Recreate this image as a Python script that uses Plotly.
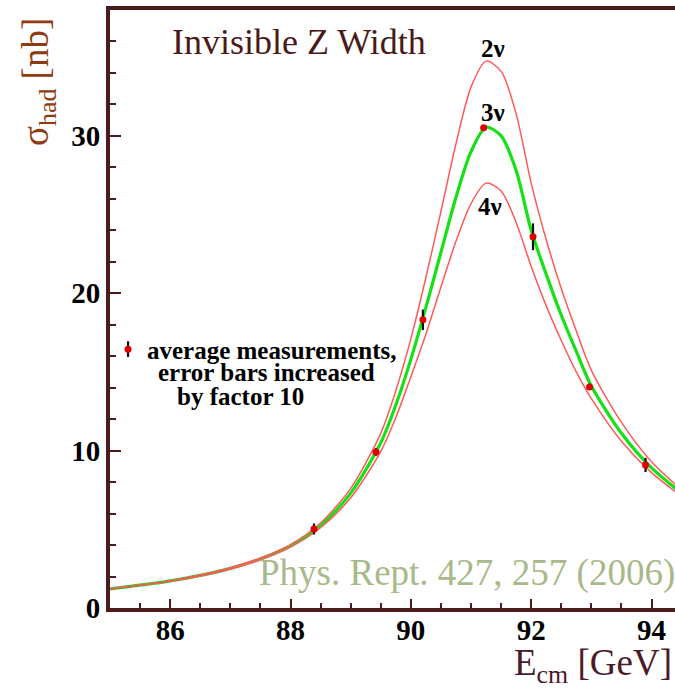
import plotly.graph_objects as go

# ---- data ----
E_curve = [85.0, 85.5, 86.0, 86.5, 87.0, 87.5, 88.0, 88.5, 89.0, 89.5, 89.75, 90.0,
           90.25, 90.5, 90.75, 91.0, 91.25, 91.5, 91.75, 92.0, 92.25, 92.5, 92.75,
           93.0, 93.5, 94.0, 94.5]
sigma_2nu = [1.23, 1.46, 1.74, 2.1, 2.56, 3.18, 4.03, 5.4, 7.6, 11.1, 13.8, 17.1,
             21.0, 25.2, 29.5, 33.1, 34.75, 34.1, 31.4, 27.0, 23.4, 20.3, 17.6,
             15.1, 11.8, 9.3, 7.5]
sigma_3nu = [1.22, 1.45, 1.72, 2.07, 2.52, 3.12, 3.95, 5.25, 7.3, 10.5, 12.9, 15.8,
             19.1, 22.6, 26.1, 29.0, 30.55, 30.0, 27.8, 24.0, 21.2, 18.6, 16.3,
             14.1, 11.1, 8.9, 7.3]
sigma_4nu = [1.21, 1.44, 1.70, 2.04, 2.48, 3.06, 3.87, 5.1, 7.0, 9.95, 12.1, 14.7,
             17.4, 20.4, 23.3, 25.7, 27.0, 26.5, 24.5, 21.7, 19.2, 17.0, 15.0,
             13.3, 10.6, 8.6, 7.1]

E_meas = [88.39, 89.42, 90.20, 91.21, 92.03, 92.97, 93.90]
sigma_meas = [5.02, 9.92, 18.31, 30.51, 23.59, 14.05, 9.09]
err_meas = [0.35, 0.25, 0.65, 0.15, 0.85, 0.2, 0.45]

legend_E = [85.30]
legend_sigma = [16.45]
legend_err = [0.5]

x_ticks = [86, 88, 90, 92, 94]
y_ticks = [0, 10, 20, 30]

AXC = "#4a1c1c"
SERIF = "Liberation Serif"

fig = go.Figure()
fig.add_trace(go.Scatter(x=E_curve, y=sigma_3nu, mode="lines",
                         line=dict(color="#16e016", width=3.2, shape="spline", smoothing=0.8),
                         showlegend=False, hoverinfo="skip"))
for s in (sigma_2nu, sigma_4nu):
    fig.add_trace(go.Scatter(x=E_curve, y=s, mode="lines",
                             line=dict(color="#ff5a5a", width=1.5, shape="spline", smoothing=0.8),
                             showlegend=False, hoverinfo="skip"))
fig.add_trace(go.Scatter(x=E_meas, y=sigma_meas, mode="markers",
                         marker=dict(color="#e00000", size=7),
                         error_y=dict(type="data", array=err_meas, color="#111111",
                                      thickness=2.2, width=0),
                         showlegend=False))
fig.add_trace(go.Scatter(x=legend_E, y=legend_sigma, mode="markers",
                         marker=dict(color="#e00000", size=7),
                         error_y=dict(type="data", array=legend_err, color="#111111",
                                      thickness=2.2, width=0),
                         showlegend=False))

fig.update_layout(
    width=675, height=690,
    margin=dict(l=110, r=0, t=10, b=82),
    paper_bgcolor="white", plot_bgcolor="white",
    font=dict(family=SERIF, color="black"),
    xaxis=dict(range=[85, 94.39], tickvals=x_ticks, ticks="inside", ticklen=9,
               tickwidth=2, tickcolor=AXC, showline=True, linecolor=AXC, linewidth=4,
               mirror=True, showgrid=False, zeroline=False, ticklabelstandoff=-7,
               tickfont=dict(family=SERIF, size=29, color="black", weight="bold"),
               minor=dict(dtick=0.5, tick0=85, ticks="inside", ticklen=5, tickwidth=2,
                          tickcolor=AXC, showgrid=False)),
    yaxis=dict(range=[0, 38], tickvals=y_ticks, ticks="inside", ticklen=11,
               tickwidth=2, tickcolor=AXC, showline=True, linecolor=AXC, linewidth=4,
               mirror=False, showgrid=False, zeroline=False,
               tickfont=dict(family=SERIF, size=29, color="black", weight="bold"),
               minor=dict(dtick=2, tick0=0, ticks="inside", ticklen=6, tickwidth=2,
                          tickcolor=AXC, showgrid=False)),
)

def ann(text, x, y, size, color="black", xanchor="left", yanchor="middle",
        bold=False, angle=0):
    fig.add_annotation(text=text, xref="paper", yref="paper",
                       x=(x - 110) / 565.0, y=(608 - y) / 598.0,
                       xanchor=xanchor, yanchor=yanchor, showarrow=False,
                       textangle=angle,
                       font=dict(family=SERIF, size=size, color=color,
                                 weight="bold" if bold else "normal"))

ann("Invisible Z Width", 170, 42, 36, color="#4a1a1a")
ann("2ν", 493, 49, 25, bold=True, xanchor="center")
ann("3ν", 493, 112, 25, bold=True, xanchor="center")
ann("4ν", 490, 206, 25, bold=True, xanchor="center")
ann("average measurements,", 145, 350, 25, bold=True)
ann("error bars increased", 156, 373, 25, bold=True)
ann("by factor 10", 175, 396, 25, bold=True)
ann("Phys. Rept. 427, 257 (2006)", 257, 573, 37, color="#a8b98a")
ann("E<sub>cm</sub> [GeV]", 512, 665, 37, color="#4a1a2a")
ann("σ<sub>had</sub> [nb]", 38, 82, 37, color="#8f3b12", xanchor="center", angle=-90)

fig.write_html("out.html")
